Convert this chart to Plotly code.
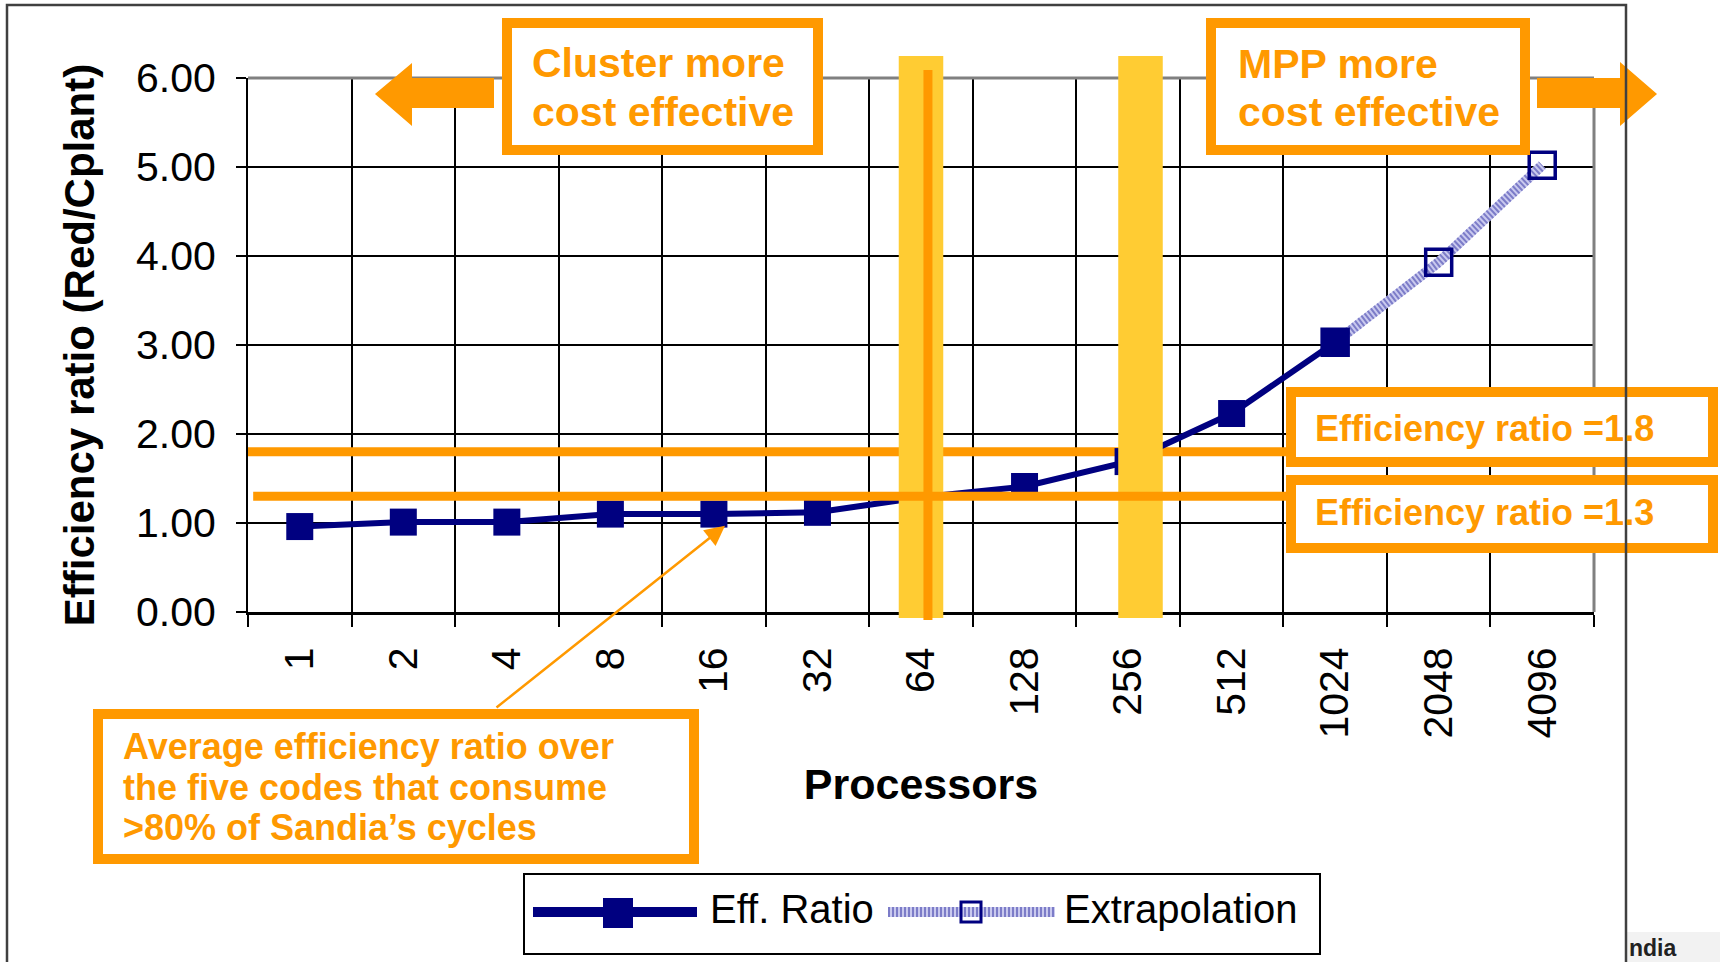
import plotly.graph_objects as go

# ---- data -------------------------------------------------------------
processors = ["1", "2", "4", "8", "16", "32", "64", "128", "256", "512", "1024", "2048", "4096"]
eff_procs = ["1", "2", "4", "8", "16", "32", "64", "128", "256", "512", "1024"]
eff_ratio = [0.96, 1.01, 1.01, 1.10, 1.10, 1.12, 1.29, 1.41, 1.69, 2.23, 3.03]
extrap_procs = ["1024", "2048", "4096"]
extrapolation = [3.03, 3.93, 5.02]
y_ticks = [0, 1, 2, 3, 4, 5, 6]
ratio_high = 1.8
ratio_low = 1.3
crossover_procs = ["64", "256"]
pointer_proc = "16"

# ---- geometry / styling -------------------------------------------------
W, H = 1720, 962
L, R, T, B = 248, 1594, 78, 612          # plot area in pixels
ORANGE = "#FF9900"
GOLD = "#FFCC33"
NAVY = "#000080"
LAV_LIGHT = "#c9c9ee"
LAV_DARK = "#7c7cc8"
FONT = "Liberation Sans, Arial, sans-serif"
NARROW = "Liberation Sans Narrow, Arial Narrow, sans-serif"

pos = {p: i for i, p in enumerate(processors)}


def px(x):
    return (x - L) / (R - L)


def py(y):
    return (B - y) / (B - T)


def prect(x0, y0, x1, y1, **kw):
    return dict(type="rect", xref="paper", yref="paper",
                x0=px(x0), x1=px(x1), y0=py(y1), y1=py(y0), layer="above", **kw)


def pline(x0, y0, x1, y1, **kw):
    return dict(type="line", xref="paper", yref="paper",
                x0=px(x0), x1=px(x1), y0=py(y0), y1=py(y1), layer="above", **kw)


def ppath(points, **kw):
    d = "M " + " L ".join(f"{px(a):.5f},{py(b):.5f}" for a, b in points) + " Z"
    return dict(type="path", xref="paper", yref="paper", path=d, layer="above", **kw)


def ptext(x, y, text, size, color=ORANGE, bold=True, family=FONT):
    return dict(x=px(x), y=py(y), xref="paper", yref="paper", text=text,
                showarrow=False, xanchor="left", yanchor="middle",
                font=dict(family=family, size=size, color=color,
                          weight="bold" if bold else "normal"))


fig = go.Figure()

# extrapolated part: light band with a striped overlay and open squares
ex_x = [pos[p] for p in extrap_procs]
fig.add_trace(go.Scatter(x=ex_x, y=extrapolation, mode="lines", name="Extrapolation",
                         line=dict(color=LAV_LIGHT, width=10), showlegend=False,
                         hoverinfo="skip"))
fig.add_trace(go.Scatter(x=ex_x, y=extrapolation, mode="lines+markers", name="Extrapolation",
                         line=dict(color=LAV_DARK, width=10, dash="2px,2px"),
                         marker=dict(symbol="square-open", size=26, color=NAVY,
                                     line=dict(width=3.5, color=NAVY)),
                         showlegend=False))
# measured efficiency ratio
fig.add_trace(go.Scatter(x=[pos[p] for p in eff_procs], y=eff_ratio, mode="lines+markers",
                         name="Eff. Ratio", line=dict(color=NAVY, width=6),
                         marker=dict(symbol="square", size=27, color=NAVY),
                         showlegend=False))

# ---- shapes ----------------------------------------------------------------
line_end = (1290 - L) / ((R - L) / len(processors)) - 0.5
bar_half = 0.215
bar_shift = {"64": 0.0, "256": 0.12}
shapes = []

# 1.8 threshold sits under the crossover bars
shapes.append(dict(type="line", xref="x", yref="y", x0=-0.5, x1=line_end,
                   y0=ratio_high, y1=ratio_high, layer="between",
                   line=dict(color=ORANGE, width=9)))

# plot-area border (top and right)
shapes.append(pline(L, T, R, T, line=dict(color="#808080", width=3)))
shapes.append(pline(R, T, R, B, line=dict(color="#808080", width=3)))

# crossover bars at 64 and 256 processors
for p in crossover_procs:
    c = pos[p] + bar_shift[p]
    shapes.append(dict(type="rect", xref="x", yref="paper",
                       x0=c - bar_half, x1=c + bar_half, y0=py(618), y1=py(56),
                       fillcolor=GOLD, line=dict(width=0), layer="above"))

# 1.3 threshold runs across the bars
shapes.append(dict(type="line", xref="x", yref="y", x0=-0.45, x1=line_end,
                   y0=ratio_low, y1=ratio_low, layer="above",
                   line=dict(color=ORANGE, width=9)))
# marker line through the 64-processor bar
shapes.append(dict(type="line", xref="x", yref="paper",
                   x0=pos["64"] + 0.067, x1=pos["64"] + 0.067, y0=py(620), y1=py(70),
                   layer="above", line=dict(color=ORANGE, width=9)))

# callout boxes
box_style = dict(fillcolor="white", line=dict(color=ORANGE, width=10))
shapes.append(prect(507, 23, 818, 150, **box_style))      # cluster
shapes.append(prect(1211, 23, 1525, 150, **box_style))    # MPP
shapes.append(prect(1291, 392, 1713, 462, **box_style))   # ratio 1.8
shapes.append(prect(1291, 480, 1713, 548, **box_style))   # ratio 1.3
shapes.append(prect(98, 714, 694, 859, **box_style))      # average note

# direction arrows
shapes.append(ppath([(494, 78), (412, 78), (412, 63), (375, 94), (412, 126),
                     (412, 108), (494, 108)], fillcolor=ORANGE, line=dict(width=0)))
shapes.append(ppath([(1537, 78), (1620, 78), (1620, 62), (1657, 94), (1620, 126),
                     (1620, 108), (1537, 108)], fillcolor=ORANGE, line=dict(width=0)))

# slide frame and footer strip
shapes.append(prect(1627, 932, 1722, 964, fillcolor="#f2f2f2", line=dict(width=0)))
shapes.append(dict(type="path", xref="paper", yref="paper", layer="above",
                   path=f"M {px(7)},{py(964)} L {px(7)},{py(5)} L {px(1626)},{py(5)} L {px(1626)},{py(964)}",
                   line=dict(color="#404040", width=2.5)))

# legend
shapes.append(prect(524, 874, 1320, 954, fillcolor="white", line=dict(color="black", width=2)))
shapes.append(pline(533, 912, 697, 912, line=dict(color=NAVY, width=10)))
shapes.append(prect(603, 898, 633, 928, fillcolor=NAVY, line=dict(width=0)))
shapes.append(pline(888, 912, 1055, 912, line=dict(color=LAV_LIGHT, width=10)))
shapes.append(pline(888, 912, 1055, 912, line=dict(color=LAV_DARK, width=10, dash="2px,2px")))
shapes.append(prect(961, 902, 981, 922, fillcolor="rgba(0,0,0,0)",
                    line=dict(color=NAVY, width=3)))

# ---- annotations -------------------------------------------------------------
ann = [
    ptext(530, 63, "Cluster more", 41),
    ptext(530, 112, "cost effective", 41),
    ptext(1236, 64, "MPP more", 41),
    ptext(1236, 112, "cost effective", 41),
    ptext(1313, 428, f"Efficiency ratio ={ratio_high}", 36),
    ptext(1313, 512, f"Efficiency ratio ={ratio_low}", 36),
    ptext(121, 746, "Average efficiency ratio over", 36),
    ptext(121, 787, "the five codes that consume", 36),
    ptext(121, 827, ">80% of Sandia’s cycles", 36),
    ptext(708, 909, "Eff. Ratio", 40, color="black", bold=False),
    ptext(1062, 909, "Extrapolation", 40, color="black", bold=False),
    ptext(1627, 948, "ndia", 23, color="#222222", bold=True, family=NARROW),
]
# pointer from the note to the 16-processor point
ann.append(dict(x=pos[pointer_proc] + 0.107, y=eff_ratio[eff_procs.index(pointer_proc)] - 0.13,
                xref="x", yref="y", text="", showarrow=True, arrowhead=2,
                arrowsize=1.6, arrowwidth=2.5, arrowcolor=ORANGE,
                ax=-230, ay=183, standoff=0))

fig.update_layout(
    width=W, height=H,
    margin=dict(l=L, r=W - R, t=T, b=H - B),
    paper_bgcolor="white", plot_bgcolor="white",
    font=dict(family=FONT, color="black"),
    showlegend=False,
    shapes=shapes,
    annotations=ann,
    xaxis=dict(
        range=[-0.5, len(processors) - 0.5],
        tickmode="array", tickvals=list(range(len(processors))), ticktext=processors,
        tickangle=-90, ticks="", showgrid=False, zeroline=False,
        tickfont=dict(size=41, family=FONT, color="black"),
        ticklabelstandoff=16,
        showline=True, linecolor="black", linewidth=3,
        minor=dict(tick0=0.5, dtick=1, ticks="outside", ticklen=12, tickwidth=2,
                   tickcolor="black", showgrid=True, gridcolor="black", gridwidth=1.5),
        title=dict(text="Processors", standoff=32,
                   font=dict(size=43, family=FONT, color="black", weight="bold")),
    ),
    yaxis=dict(
        range=[0, 6], tickmode="array", tickvals=y_ticks, tickformat=".2f",
        ticks="outside", ticklen=10, tickwidth=2, tickcolor="black",
        ticklabelstandoff=12,
        tickfont=dict(size=41, family=FONT, color="black"),
        showgrid=True, gridcolor="black", gridwidth=1.5, zeroline=False,
        showline=True, linecolor="black", linewidth=2,
        title=dict(text="Efficiency ratio (Red/Cplant)", standoff=28,
                   font=dict(size=42, family=FONT, color="black", weight="bold")),
    ),
)

fig.write_html("out.html")
